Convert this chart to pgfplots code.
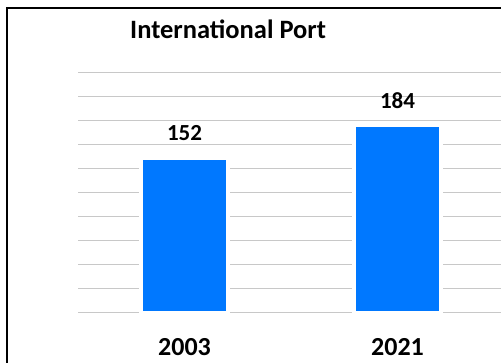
\documentclass[border=0pt]{standalone}
\usepackage{fontspec}
\setmainfont{Carlito}
\usepackage{pgfplots}
\pgfplotsset{compat=1.18}
\definecolor{barblue}{RGB}{0,120,255}
\definecolor{gridgray}{RGB}{200,200,200}
\begin{document}
\begin{tikzpicture}[x=1pt,y=1pt]
\useasboundingbox (0,0) rectangle (501,363);
\begin{axis}[
  at={(78pt,50.3pt)}, anchor=south west,
  scale only axis, width=423pt, height=240.4pt,
  xmin=-0.5, xmax=1.4859, ymin=0, ymax=236,
  xtick=data, xticklabels={2003,2021},
  ytick={0,23.6,...,236}, yticklabels={},
  ymajorgrids, major grid style={draw=gridgray, line width=1pt},
  axis line style={draw=none}, tick style={draw=none},
  /pgf/number format/assume math mode=true,
  xticklabel style={font=\fontsize{26}{30}\selectfont\bfseries, anchor=base, inner sep=0pt, yshift=-38.5pt},
  xticklabel shift=0pt,
  typeset ticklabels with strut=false,
  ybar, bar width=87pt,
  nodes near coords,
  every node near coord/.append style={font=\fontsize{23}{27}\selectfont\bfseries, anchor=base, inner sep=0pt, yshift=17pt},
  clip=false,
]
\addplot[fill=barblue, draw=white, line width=3.4pt] coordinates {(0,152) (1,184)};
\end{axis}
\node[anchor=base west, inner sep=0pt, font=\fontsize{26.5}{30}\selectfont\bfseries] at (130,324.7) {International Port};
\draw[black, line width=2.5pt] (7.2,0) -- (7.2,355) -- (501,355);
\end{tikzpicture}
\end{document}
